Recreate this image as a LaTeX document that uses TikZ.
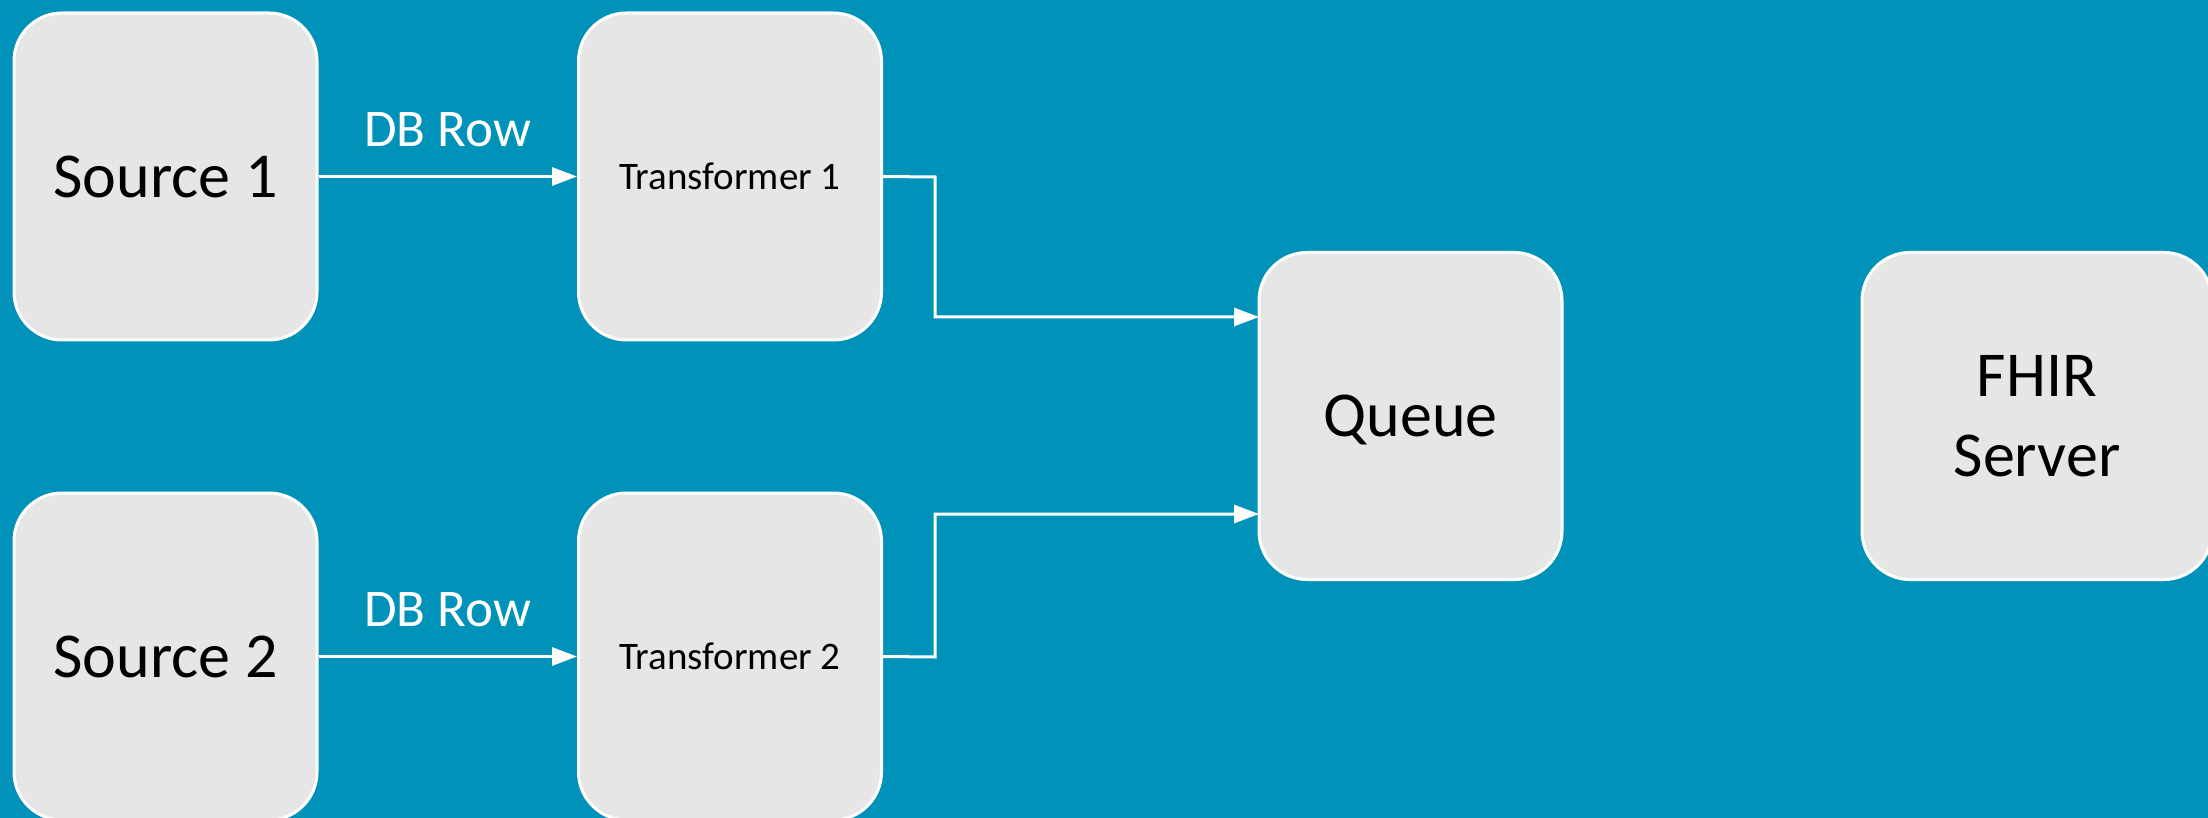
\documentclass[tikz,border=0pt]{standalone}
\usepackage{fontspec}
\setmainfont{Carlito}
\usetikzlibrary{arrows.meta}
\definecolor{bgteal}{RGB}{0,146,185}
\definecolor{boxgray}{RGB}{230,230,230}
\tikzset{
  box/.style={draw=white, line width=1.5pt, fill=boxgray, rounded corners=24pt,
    minimum width=151.5pt, minimum height=163.5pt, inner sep=0pt, align=center, text=black},
  bigtext/.style={font=\fontsize{32}{40}\selectfont},
  smalltext/.style={font=\fontsize{19.5}{23}\selectfont},
  conn/.style={draw=white, line width=1.5pt, -{Triangle[length=12.5pt,width=9pt]}},
  lbl/.style={text=white, font=\fontsize{26.5}{31}\selectfont, inner sep=0pt}
}
\begin{document}
\begin{tikzpicture}[x=0.5pt,y=-0.5pt]
\useasboundingbox (0,0) rectangle (2208,818);
\fill[bgteal] (0,0) rectangle (2208,818);
\node[box,bigtext,text depth=0pt] (s1) at (165.5,176.5) {Source 1};
\node[box,smalltext] (t1) at (730,176.5) {Transformer 1};
\node[box,bigtext,text depth=0pt] (s2) at (165.5,656.5) {Source 2};
\node[box,smalltext] (t2) at (730,656.5) {Transformer 2};
\node[box,bigtext,text depth=0pt] (q) at (1410.5,416) {Queue};
\node[box,bigtext,minimum width=175pt] (f) at (2037,416) {FHIR\\Server};
\coordinate (q1) at (1259,317);
\coordinate (q2) at (1259,514);
\coordinate (e1) at (935,177);
\coordinate (e2) at (935,657);
\draw[conn] (s1) -- node[lbl, above=14pt] (l1) {DB Row} (t1);
\draw[conn] (s2) -- node[lbl, above=14pt] (l2) {DB Row} (t2);
\draw[conn] (t1.east) -- (e1) |- (q1);
\draw[conn] (t2.east) -- (e2) |- (q2);
\end{tikzpicture}
\end{document}
